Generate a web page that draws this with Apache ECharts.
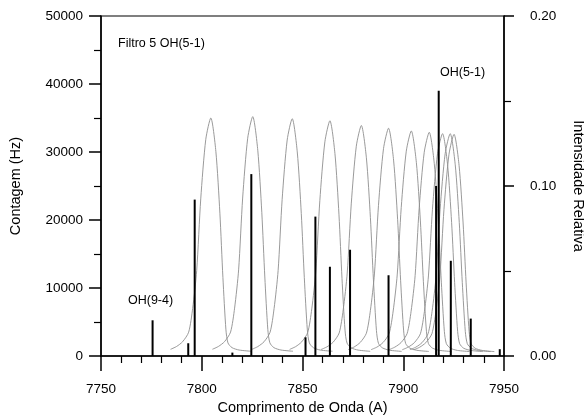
<!DOCTYPE html>
<html>
<head>
<meta charset="utf-8">
<script src="https://cdn.jsdelivr.net/npm/echarts@6/dist/echarts.min.js"></script>
<style>
  html, body { margin: 0; padding: 0; background: #fff; }
  #chart { width: 584px; height: 416px; }
</style>
</head>
<body>
<div id="chart"></div>
<script>
// OH emission lines (wavelength in A, relative intensity)
const ohWave = [7775.6, 7793.3, 7796.5, 7815.2, 7824.6, 7851.5, 7856.4, 7863.6, 7873.6, 7892.7, 7916.3, 7917.6, 7923.6, 7933.5, 7947.9];
const ohInt  = [0.021, 0.0075, 0.092, 0.002, 0.107, 0.011, 0.082, 0.0525, 0.0625, 0.0475, 0.10, 0.156, 0.056, 0.022, 0.004];

// filter transmission curves, counts (Hz)
const filter1 = [[7784.5,980],[7787.5,1400],[7790.5,2100],[7793.5,3500],[7795.5,7000],[7797.5,12600],[7799.5,23100],[7802,31850],[7804.5,35000],[7807,30100],[7809,21000],[7810.5,11550],[7812,3850],[7813,1930],[7815,1230],[7818.5,880],[7824.5,700]];
const filter2 = [[7805.3,990],[7808.3,1410],[7811.3,2110],[7814.3,3520],[7816.3,7040],[7818.3,12670],[7820.3,23230],[7822.8,32030],[7825.3,35200],[7827.8,30270],[7829.8,21120],[7831.3,11620],[7832.8,3870],[7833.8,1940],[7835.8,1230],[7839.3,880],[7845.3,700]];
const filter3 = [[7824.9,980],[7827.9,1400],[7830.9,2090],[7833.9,3490],[7835.9,6980],[7837.9,12560],[7839.9,23030],[7842.4,31760],[7844.9,34900],[7847.4,30010],[7849.4,20940],[7850.9,11520],[7852.4,3840],[7853.4,1920],[7855.4,1220],[7858.9,870],[7864.9,700]];
const filter4 = [[7843.6,970],[7846.6,1380],[7849.6,2080],[7852.6,3460],[7854.6,6920],[7856.6,12460],[7858.6,22840],[7861.1,31490],[7863.6,34600],[7866.1,29760],[7868.1,20760],[7869.6,11420],[7871.1,3810],[7872.1,1900],[7874.1,1210],[7877.6,870],[7883.6,690]];
const filter5 = [[7859.2,950],[7862.2,1360],[7865.2,2030],[7868.2,3390],[7870.2,6780],[7872.2,12200],[7874.2,22370],[7876.7,30850],[7879.2,33900],[7881.7,29150],[7883.7,20340],[7885.2,11190],[7886.7,3730],[7887.7,1860],[7889.7,1190],[7893.2,850],[7899.2,680]];
const filter6 = [[7872.7,940],[7875.7,1340],[7878.7,2010],[7881.7,3350],[7883.7,6700],[7885.7,12060],[7887.7,22110],[7890.2,30490],[7892.7,33500],[7895.2,28810],[7897.2,20100],[7898.7,11060],[7900.2,3690],[7901.2,1840],[7903.2,1170],[7906.7,840],[7912.7,670]];
const filter7 = [[7884,930],[7887,1320],[7890,1990],[7893,3310],[7895,6620],[7897,11920],[7899,21850],[7901.5,30120],[7904,33100],[7906.5,28470],[7908.5,19860],[7910,10920],[7911.5,3640],[7912.5,1820],[7914.5,1160],[7918,830],[7924,660]];
const filter8 = [[7892.9,920],[7895.9,1320],[7898.9,1970],[7901.9,3290],[7903.9,6580],[7905.9,11840],[7907.9,21710],[7910.4,29940],[7912.9,32900],[7915.4,28290],[7917.4,19740],[7918.9,10860],[7920.4,3620],[7921.4,1810],[7923.4,1150],[7926.9,820],[7932.9,660]];
const filter9 = [[7899.5,920],[7902.5,1310],[7905.5,1960],[7908.5,3270],[7910.5,6540],[7912.5,11770],[7914.5,21580],[7917,29760],[7919.5,32700],[7922,28120],[7924,19620],[7925.5,10790],[7927,3600],[7928,1800],[7930,1140],[7933.5,820],[7939.5,650]];
const filter10 = [[7903.3,920],[7906.3,1310],[7909.3,1960],[7912.3,3270],[7914.3,6540],[7916.3,11770],[7918.3,21580],[7920.8,29760],[7923.3,32700],[7925.8,28120],[7927.8,19620],[7929.3,10790],[7930.8,3600],[7931.8,1800],[7933.8,1140],[7937.3,820],[7943.3,650]];
const filter11 = [[7905.2,910],[7908.2,1300],[7911.2,1960],[7914.2,3260],[7916.2,6520],[7918.2,11740],[7920.2,21520],[7922.7,29670],[7925.2,32600],[7927.7,28040],[7929.7,19560],[7931.2,10760],[7932.7,3590],[7933.7,1790],[7935.7,1140],[7939.2,820],[7945.2,650]];
const filterCurves = [filter1, filter2, filter3, filter4, filter5, filter6, filter7, filter8, filter9, filter10, filter11];

const font = "'Liberation Sans', Arial, sans-serif";
const chart = echarts.init(document.getElementById("chart"));

const series = filterCurves.map(function (d) {
  return {
    type: "line",
    xAxisIndex: 0,
    yAxisIndex: 0,
    data: d,
    smooth: 0.25,
    symbol: "none",
    silent: true,
    lineStyle: { color: "#8e8e8e", width: 0.9 },
    z: 2,
  };
});
series.push({
  type: "bar",
  xAxisIndex: 0,
  yAxisIndex: 1,
  barWidth: 2,
  data: ohWave.map(function (w, i) { return [w, ohInt[i]]; }),
  itemStyle: { color: "#000" },
  z: 3,
});

const option = {
  animation: false,
  backgroundColor: "#fff",
  textStyle: { fontFamily: font },
  grid: {
    left: 101, right: 80, top: 16, bottom: 60,
    outerBoundsMode: "none",
    containLabel: false,
    show: true, borderColor: "#000", borderWidth: 1.2,
  },
  xAxis: {
    type: "value",
    min: 7750, max: 7950, interval: 50,
    name: "Comprimento de Onda (A)",
    nameLocation: "middle",
    nameGap: 43,
    nameTextStyle: { fontSize: 14.5, color: "#000", fontFamily: font },
    axisLine: { lineStyle: { color: "#000", width: 1.5 } },
    axisTick: { inside: false, length: 15, lineStyle: { color: "#000", width: 1.5 } },
    minorTick: { show: true, splitNumber: 5, length: 7, lineStyle: { color: "#000", width: 1.2 } },
    axisLabel: {
      margin: 26, fontSize: 13.5, color: "#000", fontFamily: font,
      formatter: function (v) { return String(v); },
    },
    splitLine: { show: false },
  },
  yAxis: [
    {
      type: "value",
      position: "left",
      min: 0, max: 50000, interval: 10000,
      name: "Contagem (Hz)",
      nameLocation: "middle",
      nameGap: 78,
      nameTextStyle: { fontSize: 14.5, color: "#000", fontFamily: font },
      axisLine: { show: true, lineStyle: { color: "#000", width: 1.5 } },
      axisTick: { show: true, inside: false, length: 12, lineStyle: { color: "#000", width: 1.5 } },
      minorTick: { show: true, splitNumber: 2, length: 7, lineStyle: { color: "#000", width: 1.2 } },
      axisLabel: {
        margin: 18, fontSize: 13.5, color: "#000", fontFamily: font,
        formatter: function (v) { return String(v); },
      },
      splitLine: { show: false },
    },
    {
      type: "value",
      position: "right",
      min: 0, max: 0.2, interval: 0.1,
      name: "Intensidade Relativa",
      nameLocation: "middle",
      nameRotate: -90,
      nameGap: 66,
      nameTextStyle: { fontSize: 14.5, color: "#000", fontFamily: font },
      axisLine: { show: true, lineStyle: { color: "#000", width: 1.5 } },
      axisTick: { show: true, inside: false, length: 10, lineStyle: { color: "#000", width: 1.5 } },
      minorTick: { show: true, splitNumber: 2, length: 7, lineStyle: { color: "#000", width: 1.2 } },
      axisLabel: {
        margin: 26, fontSize: 13.5, color: "#000", fontFamily: font,
        formatter: function (v) { return v.toFixed(2); },
      },
      splitLine: { show: false },
    },
  ],
  graphic: [
    { type: "text", left: 118, top: 37, style: { text: "Filtro 5 OH(5-1)", font: "12.5px " + font, fill: "#000" } },
    { type: "text", left: 440, top: 66, style: { text: "OH(5-1)", font: "12.5px " + font, fill: "#000" } },
    { type: "text", left: 128, top: 294, style: { text: "OH(9-4)", font: "12.5px " + font, fill: "#000" } },
  ],
  series: series,
};

chart.setOption(option);
</script>
</body>
</html>
